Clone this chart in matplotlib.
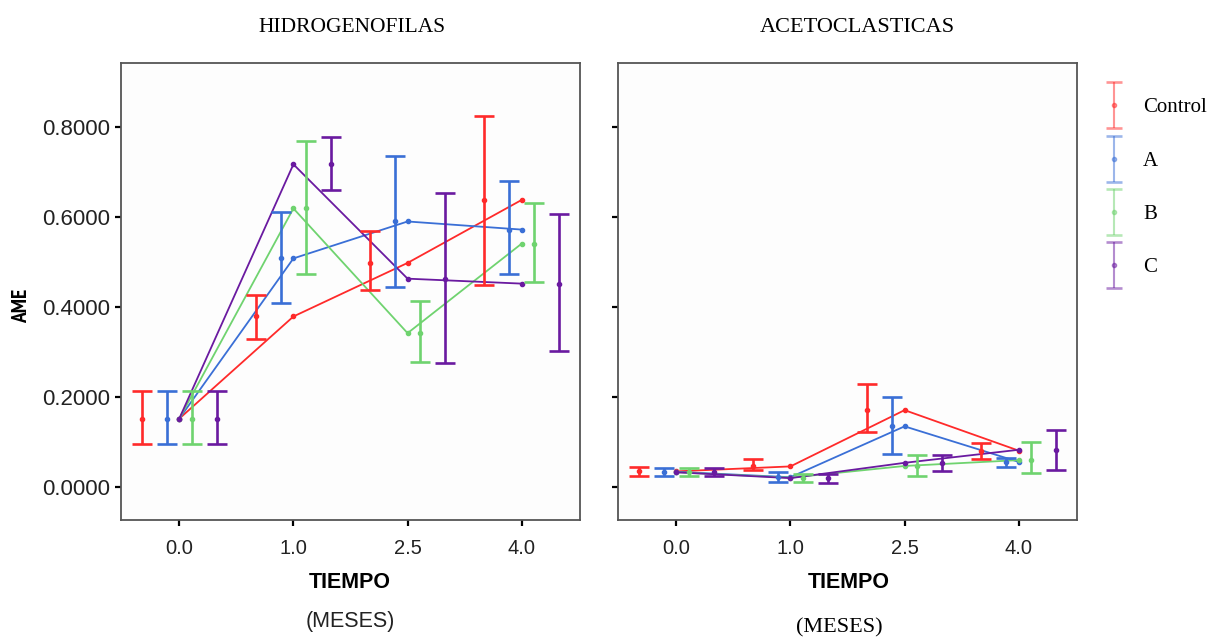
import matplotlib
matplotlib.use("Agg")
import matplotlib.pyplot as plt
import numpy as np
from matplotlib.legend_handler import HandlerErrorbar
from matplotlib.container import ErrorbarContainer
from matplotlib.lines import Line2D
from matplotlib.collections import LineCollection

times = ['0.0', '1.0', '2.5', '4.0']
groups = ['Control', 'A', 'B', 'C']
colors = ['#ff2a2a', '#3a6fd6', '#6fd36f', '#6a1aa0']

# HIDROGENOFILAS: mean, lower, upper
hid_mean = {
    'Control': [0.152, 0.379, 0.498, 0.638],
    'A':       [0.152, 0.508, 0.590, 0.572],
    'B':       [0.152, 0.619, 0.342, 0.541],
    'C':       [0.152, 0.717, 0.463, 0.452],
}
hid_low = {
    'Control': [0.095, 0.330, 0.437, 0.450],
    'A':       [0.095, 0.408, 0.445, 0.474],
    'B':       [0.095, 0.474, 0.279, 0.455],
    'C':       [0.095, 0.659, 0.275, 0.303],
}
hid_high = {
    'Control': [0.214, 0.427, 0.569, 0.824],
    'A':       [0.214, 0.611, 0.736, 0.681],
    'B':       [0.214, 0.769, 0.413, 0.630],
    'C':       [0.214, 0.778, 0.653, 0.606],
}

# ACETOCLASTICAS
ace_mean = {
    'Control': [0.035, 0.046, 0.171, 0.081],
    'A':       [0.034, 0.022, 0.135, 0.056],
    'B':       [0.033, 0.021, 0.047, 0.060],
    'C':       [0.033, 0.020, 0.054, 0.083],
}
ace_low = {
    'Control': [0.025, 0.038, 0.123, 0.062],
    'A':       [0.024, 0.012, 0.073, 0.044],
    'B':       [0.024, 0.012, 0.024, 0.032],
    'C':       [0.024, 0.010, 0.036, 0.039],
}
ace_high = {
    'Control': [0.044, 0.062, 0.229, 0.099],
    'A':       [0.043, 0.034, 0.201, 0.064],
    'B':       [0.042, 0.030, 0.071, 0.100],
    'C':       [0.043, 0.030, 0.071, 0.127],
}

yticks = [0.0, 0.2, 0.4, 0.6, 0.8]
ytick_labels = ['0.0000', '0.2000', '0.4000', '0.6000', '0.8000']

narrow = ['PT Sans Narrow', 'Roboto Condensed', 'Archivo Narrow', 'Liberation Sans']
sans = ['Liberation Sans', 'DejaVu Sans']
serif = ['Liberation Serif', 'DejaVu Serif']

W, H = 1212, 639
fig = plt.figure(figsize=(W / 100, H / 100), dpi=100)
fig.patch.set_facecolor('white')

def fx(px):
    return px / W

def fy(py):
    return 1 - py / H

ax1 = fig.add_axes([fx(121), fy(520), fx(580) - fx(121), fy(63) - fy(520)])
ax2 = fig.add_axes([fx(618), fy(520), fx(1077) - fx(618), fy(63) - fy(520)])

offsets = [-0.33, -0.11, 0.11, 0.33]
xpos = np.arange(len(times))

def draw(ax, mean, low, high):
    conts = []
    for g, c, off in zip(groups, colors, offsets):
        m = np.array(mean[g]); lo = np.array(low[g]); hi = np.array(high[g])
        ax.plot(xpos, m, color=c, lw=1.3, marker='o', ms=3, zorder=3)
        ec = ax.errorbar(xpos + off, m, yerr=[m - lo, hi - m], fmt='o', ms=3,
                         color=c, ecolor=c, elinewidth=1.9, capsize=7.5,
                         capthick=1.9, zorder=4, label=g)
        conts.append(ec)
    ax.set_xlim(-0.51, 3.51)
    ax.set_ylim(-0.073, 0.942)
    ax.set_xticks(xpos)
    ax.set_xticklabels(times, fontfamily=sans, fontsize=14.5, color='#222222')
    ax.set_yticks(yticks)
    ax.tick_params(axis='both', direction='out', length=4.5, width=1.6,
                   color='black')
    ax.tick_params(axis='x', pad=9)
    ax.tick_params(axis='y', pad=3.5)
    for s in ax.spines.values():
        s.set_color('#555555')
        s.set_linewidth(1.3)
    ax.set_facecolor('#fdfdfd')
    return conts

draw(ax1, hid_mean, hid_low, hid_high)
conts = draw(ax2, ace_mean, ace_low, ace_high)
ax1.set_yticklabels(ytick_labels, fontfamily=sans, fontsize=16, color='#222222')
ax2.set_yticklabels([])

# Titles and labels
fig.text(fx(352), fy(27), 'HIDROGENOFILAS', family=serif, fontsize=15.5,
         ha='center', va='center')
fig.text(fx(857), fy(28), 'ACETOCLASTICAS', family=serif, fontsize=16,
         ha='center', va='center')
fig.text(fx(350), fy(582), 'TIEMPO', family=sans, fontweight='bold',
         fontsize=15.5, ha='center', va='center')
fig.text(fx(849), fy(582), 'TIEMPO', family=sans, fontweight='bold',
         fontsize=15.5, ha='center', va='center')
fig.text(fx(350), fy(622), '(MESES)', family=sans, fontsize=15.5,
         ha='center', va='center', color='#222222')
fig.text(fx(839), fy(628), '(MESES)', family=serif, fontsize=16,
         ha='center', va='center')
fig.text(fx(22), fy(306), 'AME', family=narrow,
         fontweight='bold', fontsize=15.5, rotation=90, ha='center', va='center')

# Legend
leg = fig.legend(handles=conts, labels=groups, loc='upper left',
                 bbox_to_anchor=(fx(1089), fy(76)), frameon=False,
                 prop={'family': serif, 'size': 15},
                 handler_map={ErrorbarContainer: HandlerErrorbar(yerr_size=1.1)},
                 handlelength=1.0, handleheight=3.1, handletextpad=0.9,
                 labelspacing=0.3, borderpad=0.2)
for art in leg.findobj(match=lambda a: isinstance(a, (Line2D, LineCollection))):
    art.set_alpha(0.5)
    if isinstance(art, Line2D) and art.get_marker() == '_':
        art.set_markersize(11)
    if isinstance(art, LineCollection):
        art.set_linewidth(1.5)
for t in leg.get_texts():
    t.set_y(8)

fig.savefig('out.png', dpi=100, facecolor='white')
